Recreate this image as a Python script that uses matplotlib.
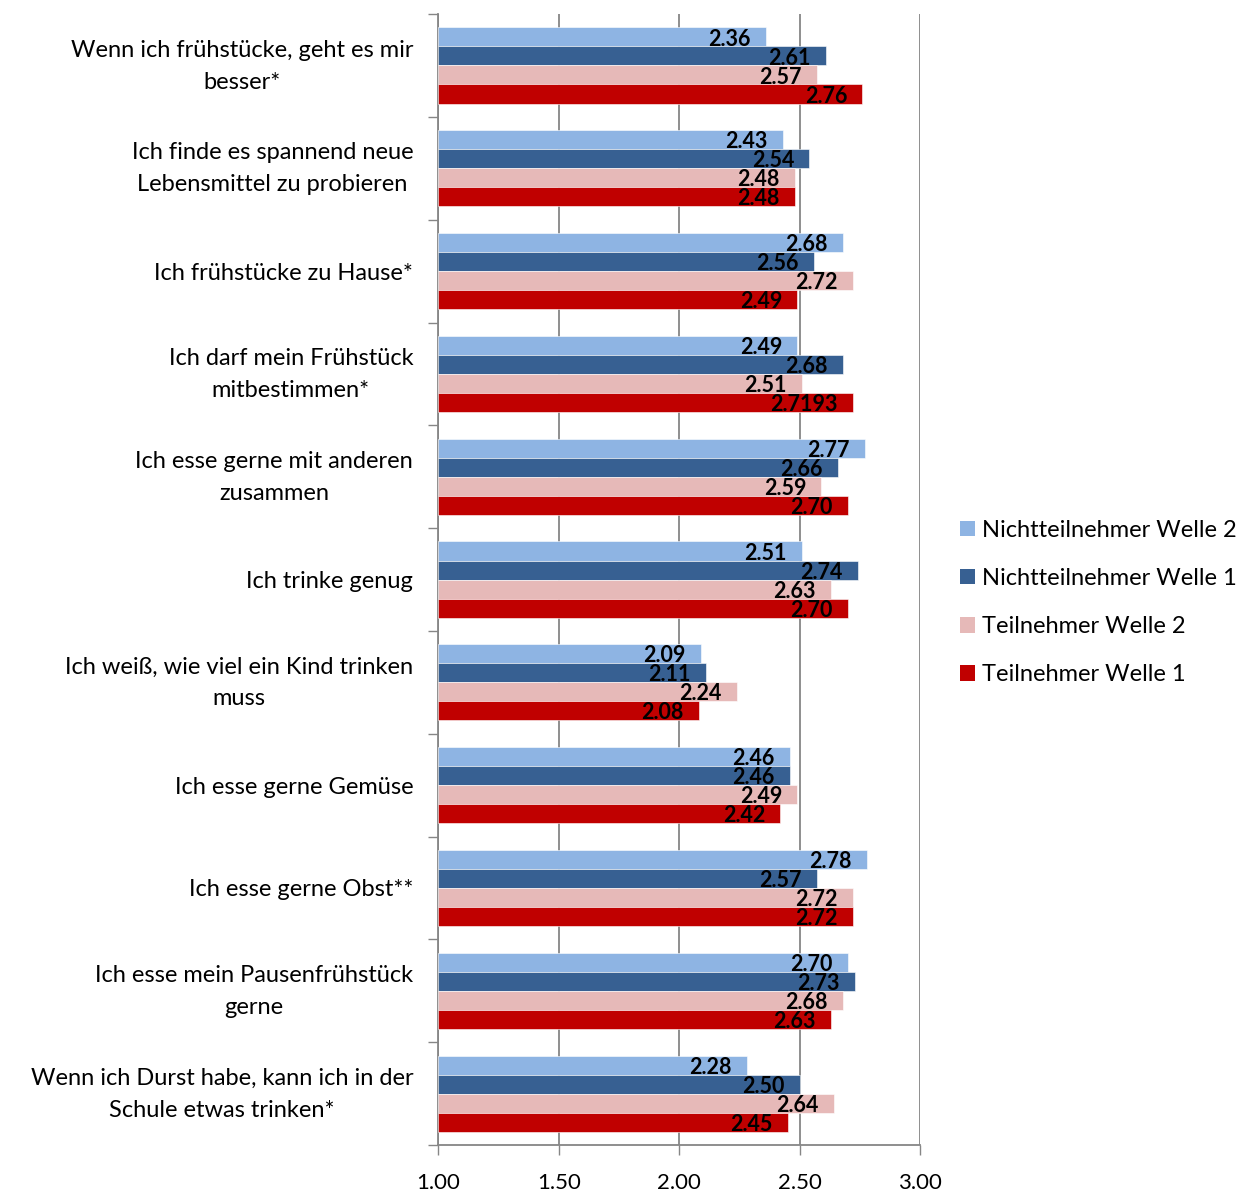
import matplotlib
matplotlib.use("Agg")
import matplotlib.pyplot as plt
import matplotlib.transforms as mtransforms
import numpy as np
from matplotlib.patches import Patch

plt.rcParams["font.family"] = ["Lato", "DejaVu Sans"]

categories = [
    "Wenn ich frühstücke, geht es mir\nbesser*",
    "Ich finde es spannend neue\nLebensmittel zu probieren",
    "Ich frühstücke zu Hause*",
    "Ich darf mein Frühstück\nmitbestimmen*",
    "Ich esse gerne mit anderen\nzusammen",
    "Ich trinke genug",
    "Ich weiß, wie viel ein Kind trinken\nmuss",
    "Ich esse gerne Gemüse",
    "Ich esse gerne Obst**",
    "Ich esse mein Pausenfrühstück\ngerne",
    "Wenn ich Durst habe, kann ich in der\nSchule etwas trinken*",
]

nicht_w2 = [2.36, 2.43, 2.68, 2.49, 2.77, 2.51, 2.09, 2.46, 2.78, 2.70, 2.28]
nicht_w1 = [2.61, 2.54, 2.56, 2.68, 2.66, 2.74, 2.11, 2.46, 2.57, 2.73, 2.50]
teil_w2 = [2.57, 2.48, 2.72, 2.51, 2.59, 2.63, 2.24, 2.49, 2.72, 2.68, 2.64]
teil_w1 = [2.76, 2.48, 2.49, 2.7193, 2.70, 2.70, 2.08, 2.42, 2.72, 2.63, 2.45]

series = [
    ("Nichtteilnehmer Welle 2", nicht_w2, "#8EB4E3"),
    ("Nichtteilnehmer Welle 1", nicht_w1, "#376092"),
    ("Teilnehmer Welle 2", teil_w2, "#E6B9B8"),
    ("Teilnehmer Welle 1", teil_w1, "#C00000"),
]

x_ticks = [1.00, 1.50, 2.00, 2.50, 3.00]


def fmt(v):
    return f"{v:.2f}" if round(v, 2) == v else f"{v:g}"


fig = plt.figure(figsize=(12.59, 11.91), dpi=100)
ax = fig.add_axes([0.348, 0.0386, 0.383, 0.9496])

y = np.arange(len(categories))
h = 0.185
for k, (name, vals, color) in enumerate(series):
    pos = y + (k - 1.5) * h
    ax.barh(pos, np.array(vals) - 1.0, left=1.0, height=h, color=color,
            edgecolor="white", linewidth=0.4, zorder=3)
    for p, v in zip(pos, vals):
        ax.annotate(fmt(v), xy=(v, p), xytext=(-11, -1.5), textcoords="offset points",
                    ha="right", va="center", fontsize=15.5, fontweight="bold",
                    color="black", zorder=4)

ax.set_xlim(1.0, 3.0)
ax.set_ylim(len(categories) - 0.5, -0.5)
ax.set_xticks(x_ticks)
ax.set_xticklabels([f"{t:.2f}" for t in x_ticks], fontsize=16)
ax.xaxis.grid(True, color="#868686", linewidth=1.3, zorder=0)

ax.set_yticks(np.arange(-0.5, len(categories)), labels=[])
ax.set_yticks(y, labels=categories, minor=True)
ax.tick_params(axis="y", which="major", length=7, color="#868686", width=1)
ax.tick_params(axis="y", which="minor", length=0, pad=18, labelsize=17)
# two-line labels sit a little high, like the single ones
lift = mtransforms.ScaledTranslation(0, 5 / 72, fig.dpi_scale_trans)
for lbl in ax.get_yticklabels(minor=True):
    lbl.set_horizontalalignment("right")
    lbl.set_multialignment("center")
    lbl.set_linespacing(1.65)
    if "\n" in lbl.get_text():
        lbl.set_transform(lbl.get_transform() + lift)
ax.tick_params(axis="x", length=7, color="#868686", width=1, pad=13)

for side in ["top", "right"]:
    ax.spines[side].set_visible(False)
for side in ["left", "bottom"]:
    ax.spines[side].set_color("#868686")
    ax.spines[side].set_linewidth(1.3)

handles = [Patch(facecolor=c, label=n) for n, _, c in series]
fig.legend(handles=handles, loc="center left", bbox_to_anchor=(0.746, 0.494),
           frameon=False, fontsize=17, handlelength=0.62, handleheight=0.62,
           handletextpad=0.3, labelspacing=1.15)

fig.savefig("out.png", dpi=100)
